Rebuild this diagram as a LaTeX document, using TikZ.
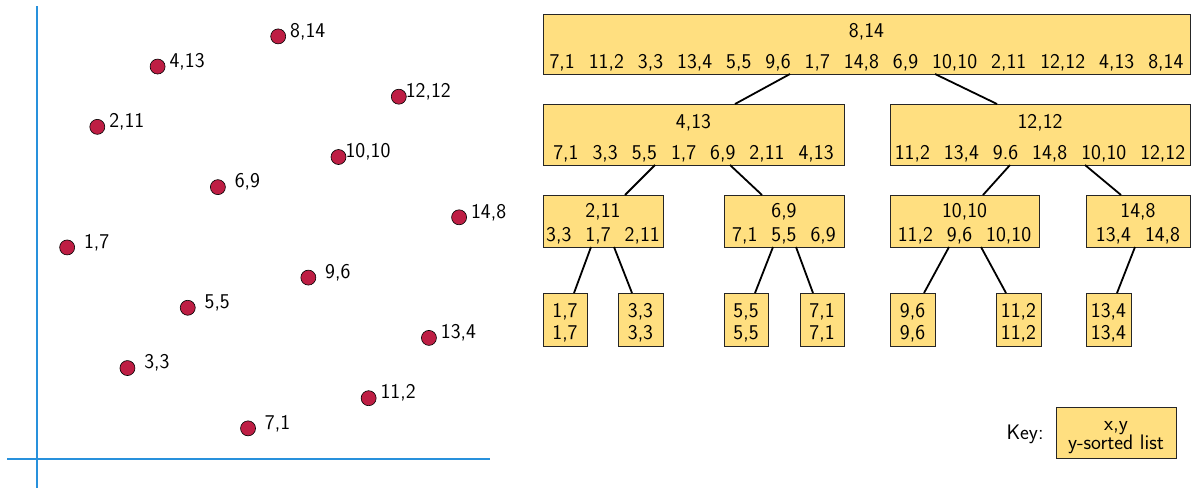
\documentclass[tikz,border=0pt]{standalone}
\usepackage{tikz}
\definecolor{boxfill}{RGB}{255,223,128}
\definecolor{ptfill}{RGB}{190,30,68}
\definecolor{axisblue}{RGB}{40,145,220}
\newcommand{\gp}{\hspace{14pt}}
\newcommand{\lift}[1]{\rule{0pt}{#1}}
\tikzset{
  tbox/.style={draw=black!85, fill=boxfill, line width=0.8pt, inner sep=0pt, outer sep=0pt, anchor=north west, align=center},
  ptnode/.style={circle, draw=black, fill=ptfill, line width=0.6pt, minimum size=15pt, inner sep=0pt},
  conn/.style={line width=1.8pt, black},
  axisline/.style={axisblue, line width=1.1pt},
}
\begin{document}
\begin{tikzpicture}[x=1pt,y=-1pt,font=\sffamily\fontsize{21pt}{23pt}\selectfont]
\useasboundingbox (0,0) rectangle (1191,488);
% axes
\coordinate (ax1) at (37,6);
\coordinate (ax2) at (37,488);
\coordinate (ay1) at (7,459);
\coordinate (ay2) at (490,459);
\draw[axisline] (ax1) -- (ax2);
\draw[axisline] (ay1) -- (ay2);
% points
\foreach \px/\py in {8/14,4/13,12/12,2/11,10/10,6/9,14/8,1/7,9/6,5/5,13/4,3/3,11/2,7/1}{
  \node[ptnode] (p-\px-\py) at ({37+30.15*\px},{458.5-30.15*\py}) {};
  \node[inner sep=0pt] (l-\px-\py) at ([shift={(29.5,-5)}]p-\px-\py.center) {\px,\py};
}
% tree boxes
\node[tbox, minimum width=647pt, minimum height=60pt] (root) at (543,14)
  {\lift{21pt}8,14\\[8.5pt]7,1\gp 11,2\gp 3,3\gp 13,4\gp 5,5\gp 9,6\gp 1,7\gp 14,8\gp 6,9\gp 10,10\gp 2,11\gp 12,12\gp 4,13\gp 8,14};
\node[tbox, minimum width=301pt, minimum height=61pt] (L) at (543,104)
  {\lift{21.5pt}4,13\\[8pt]7,1\gp 3,3\gp 5,5\gp 1,7\gp 6,9\gp 2,11\gp 4,13};
\node[tbox, minimum width=300pt, minimum height=61pt] (R) at (890,104)
  {\lift{21.5pt}12,12\\[8pt]11,2\gp 13,4\gp 9.6\gp 14,8\gp 10,10\gp 12,12};
\node[tbox, minimum width=120pt, minimum height=52pt] (LL) at (543,195)
  {\lift{19pt}2,11\\[1pt]3,3\gp 1,7\gp 2,11};
\node[tbox, minimum width=120pt, minimum height=52pt] (LR) at (724,195)
  {\lift{19pt}6,9\\[1pt]7,1\gp 5,5\gp 6,9};
\node[tbox, minimum width=149pt, minimum height=52pt] (RL) at (890,195)
  {\lift{19pt}10,10\\[1pt]11,2\gp 9,6\gp 10,10};
\node[tbox, minimum width=104pt, minimum height=52pt] (RR) at (1086,195)
  {\lift{19pt}14,8\\[1pt]13,4\gp 14,8};
\node[tbox, minimum width=44pt, minimum height=53pt] (c17) at (543,293) {\lift{20pt}1,7\\[-1pt]1,7};
\node[tbox, minimum width=45pt, minimum height=53pt] (c33) at (618,293) {\lift{20pt}3,3\\[-1pt]3,3};
\node[tbox, minimum width=44pt, minimum height=53pt] (c55) at (724,293) {\lift{20pt}5,5\\[-1pt]5,5};
\node[tbox, minimum width=44pt, minimum height=53pt] (c71) at (800,293) {\lift{20pt}7,1\\[-1pt]7,1};
\node[tbox, minimum width=45pt, minimum height=53pt] (c96) at (890,293) {\lift{20pt}9,6\\[-1pt]9,6};
\node[tbox, minimum width=45pt, minimum height=53pt] (c112) at (996,293) {\lift{20pt}11,2\\[-1pt]11,2};
\node[tbox, minimum width=45pt, minimum height=53pt] (c134) at (1086,293) {\lift{20pt}13,4\\[-1pt]13,4};
% connectors
\draw[conn] ([xshift=-76.5pt]root.south) -- ([xshift=41.5pt]L.north);
\draw[conn] ([xshift=68.5pt]root.south) -- ([xshift=-43pt]R.north);
\draw[conn] ([xshift=-38.5pt]L.south) -- ([xshift=22pt]LL.north);
\draw[conn] ([xshift=36.5pt]L.south) -- ([xshift=-22pt]LR.north);
\draw[conn] ([xshift=-30pt]R.south) -- ([xshift=18.5pt]RL.north);
\draw[conn] ([xshift=45pt]R.south) -- ([xshift=-17pt]RR.north);
\draw[conn] ([xshift=-12pt]LL.south) -- ([xshift=9pt]c17.north);
\draw[conn] ([xshift=11pt]LL.south) -- ([xshift=-8.5pt]c33.north);
\draw[conn] ([xshift=-11pt]LR.south) -- ([xshift=9pt]c55.north);
\draw[conn] ([xshift=12pt]LR.south) -- ([xshift=-9pt]c71.north);
\draw[conn] ([xshift=-15.5pt]RL.south) -- ([xshift=11.5pt]c96.north);
\draw[conn] ([xshift=16.5pt]RL.south) -- ([xshift=-12.5pt]c112.north);
\draw[conn] ([xshift=-3pt]RR.south) -- ([xshift=8.5pt]c134.north);
% key
\node (keylabel) at (1025,434) {Key:};
\node[tbox, minimum width=120pt, minimum height=51pt] (keybox) at (1056,407) {\lift{19.5pt}x,y\\[-3.5pt]y-sorted list};
\end{tikzpicture}
\end{document}
